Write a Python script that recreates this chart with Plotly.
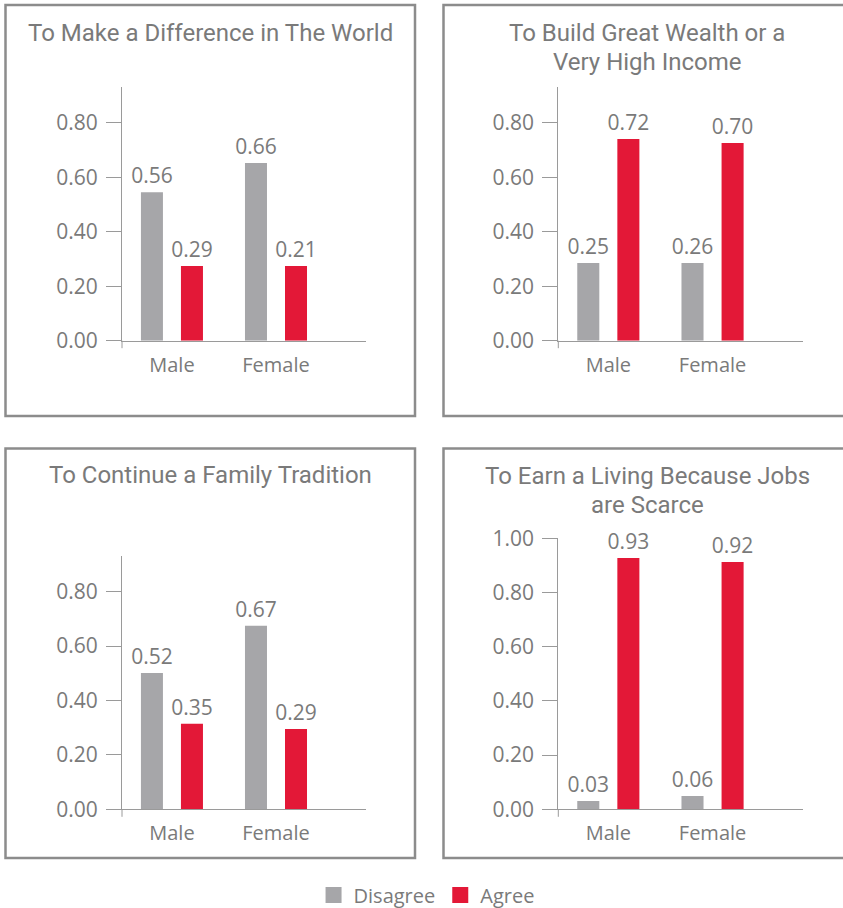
import plotly.graph_objects as go

# ---------------- data ----------------
categories = ["Male", "Female"]
series_names = ["Disagree", "Agree"]

titles = [
    "To Make a Difference in The World",
    "To Build Great Wealth or a<br>Very High Income",
    "To Continue a Family Tradition",
    "To Earn a Living Because Jobs<br>are Scarce",
]

# bar heights as drawn
difference_disagree = [0.545, 0.652]
difference_agree = [0.274, 0.274]
wealth_disagree = [0.285, 0.285]
wealth_agree = [0.740, 0.726]
tradition_disagree = [0.501, 0.674]
tradition_agree = [0.314, 0.295]
living_disagree = [0.031, 0.049]
living_agree = [0.927, 0.913]

# data labels as printed
difference_disagree_labels = ["0.56", "0.66"]
difference_agree_labels = ["0.29", "0.21"]
wealth_disagree_labels = ["0.25", "0.26"]
wealth_agree_labels = ["0.72", "0.70"]
tradition_disagree_labels = ["0.52", "0.67"]
tradition_agree_labels = ["0.35", "0.29"]
living_disagree_labels = ["0.03", "0.06"]
living_agree_labels = ["0.93", "0.92"]

ticks_short = [0.0, 0.2, 0.4, 0.6, 0.8]
ticks_long = [0.0, 0.2, 0.4, 0.6, 0.8, 1.0]

# ---------------- styling ----------------
W, H = 843, 908
GREY = "#a6a6a9"
RED = "#e31837"
TXT = "#7a7a7a"
AXIS = "#9a9a9a"
BOX = "#8c8c8c"
NUM_FONT = "Open Sans"
TITLE_FONT = "Roboto"


def px(x):
    return x / W


def py(y):
    return 1 - y / H


panels = [
    dict(dis=difference_disagree, agr=difference_agree,
         dl=difference_disagree_labels, al=difference_agree_labels,
         xd=(122, 366), y0=340.7, ytop=87.3, rng=0.93, ticks=ticks_short,
         box=(5.5, 5, 415, 416), tx=210, ty=[33]),
    dict(dis=wealth_disagree, agr=wealth_agree,
         dl=wealth_disagree_labels, al=wealth_agree_labels,
         xd=(558.3, 802.7), y0=340.7, ytop=87.3, rng=0.93, ticks=ticks_short,
         box=(443.5, 5, 850, 416), tx=647, ty=[33, 62]),
    dict(dis=tradition_disagree, agr=tradition_agree,
         dl=tradition_disagree_labels, al=tradition_agree_labels,
         xd=(122, 366), y0=809.3, ytop=556.2, rng=0.93, ticks=ticks_short,
         box=(5.5, 448.5, 415, 858), tx=210, ty=[475]),
    dict(dis=living_disagree, agr=living_agree,
         dl=living_disagree_labels, al=living_agree_labels,
         xd=(558.3, 802.7), y0=809.3, ytop=538.3, rng=1.0, ticks=ticks_long,
         box=(443.5, 448.5, 850, 858), tx=647, ty=[476, 505]),
]

UNIT = 104.0  # px per category
BAR_W = 22 / UNIT
XRANGE = [-0.48, 1.865]

fig = go.Figure()
shapes = []
annotations = []
layout = {}

for i, p in enumerate(panels):
    n = "" if i == 0 else str(i + 1)
    xa, ya = "x" + n, "y" + n
    xpos = list(range(len(categories)))
    for vals, labs, color, off in [(p["dis"], p["dl"], GREY, -31 / UNIT),
                                   (p["agr"], p["al"], RED, 9 / UNIT)]:
        fig.add_trace(go.Bar(
            x=xpos, y=vals, text=labs, textposition="outside",
            textfont=dict(family=NUM_FONT, size=21, color=TXT),
            constraintext="none", cliponaxis=False, textangle=0,
            marker=dict(color=color, line=dict(width=0)),
            width=BAR_W, offset=off, xaxis=xa, yaxis=ya,
            showlegend=False, hoverinfo="skip",
        ))
    layout["xaxis" + n] = dict(
        domain=[px(p["xd"][0]), px(p["xd"][1])], anchor=ya,
        range=XRANGE, tickvals=xpos, ticktext=categories,
        showline=True, linecolor=AXIS, linewidth=1, ticks="",
        showgrid=False, zeroline=False, fixedrange=True, automargin=False,
        tickfont=dict(family=NUM_FONT, size=20, color=TXT),
        ticklabelstandoff=6,
    )
    layout["yaxis" + n] = dict(
        domain=[py(p["y0"]), py(p["ytop"])], anchor=xa,
        range=[0, p["rng"]], tickvals=p["ticks"], tickformat=".2f",
        showline=True, linecolor=AXIS, linewidth=1,
        ticks="outside", ticklen=15, tickcolor=AXIS, tickwidth=1,
        showgrid=False, zeroline=False, fixedrange=True, automargin=False,
        tickfont=dict(family=NUM_FONT, size=21, color=TXT),
        ticklabelstandoff=4,
    )
    # y-axis line stub below the category axis
    dom_h = p["y0"] - p["ytop"]
    shapes.append(dict(type="line", xref=xa + " domain", yref=ya + " domain",
                       x0=0, x1=0, y0=0, y1=-7.5 / dom_h,
                       line=dict(color=AXIS, width=1)))
    # panel frame
    bx0, by0, bx1, by1 = p["box"]
    shapes.append(dict(type="rect", xref="paper", yref="paper",
                       x0=px(bx0), x1=px(bx1), y0=py(by1), y1=py(by0),
                       line=dict(color=BOX, width=2.5), fillcolor="rgba(0,0,0,0)"))
    # title
    lines = titles[i].split("<br>")
    for line, ty in zip(lines, p["ty"]):
        annotations.append(dict(text=line, xref="paper", yref="paper",
                                x=px(p["tx"]), y=py(ty), xanchor="center",
                                yanchor="middle", showarrow=False,
                                font=dict(family=TITLE_FONT, size=24, color=TXT)))

# legend entries
for name, color in zip(series_names, [GREY, RED]):
    fig.add_trace(go.Scatter(
        x=[None], y=[None], mode="markers", name=name,
        marker=dict(symbol="square", size=16, color=color),
        xaxis="x", yaxis="y", showlegend=True, hoverinfo="skip",
    ))

fig.update_layout(
    width=W, height=H,
    margin=dict(l=0, r=0, t=0, b=0, pad=0, autoexpand=False),
    paper_bgcolor="white", plot_bgcolor="white",
    barmode="overlay",
    shapes=shapes, annotations=annotations,
    showlegend=True,
    legend=dict(orientation="h", x=0.506, xanchor="center",
                y=py(895), yanchor="middle",
                font=dict(family=NUM_FONT, size=20, color=TXT),
                itemwidth=30, itemclick=False, itemdoubleclick=False,
                bgcolor="rgba(0,0,0,0)"),
    **layout,
)

fig.write_html(
    "out.html",
    config={"displayModeBar": False, "staticPlot": True},
    post_script="document.body.style.margin='0';document.body.style.overflow='hidden';",
)
